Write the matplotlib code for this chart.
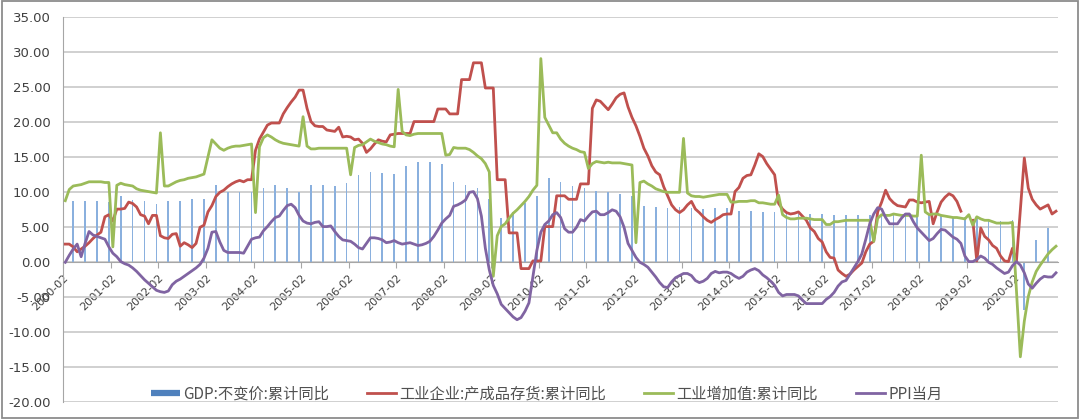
import numpy as np
import matplotlib
matplotlib.use("Agg")
import matplotlib.pyplot as plt
from matplotlib.lines import Line2D
from matplotlib.patches import Rectangle
from matplotlib.ticker import FormatStrFormatter

plt.rcParams['font.family'] = ['DejaVu Sans']

# Monthly series, one row per year (Jan..Dec), 2000-01 .. 2020-11
# PPI当月
ppi = [
    0.0, 1.0, 1.9, 2.6, 0.8, 2.7, 4.4, 3.9, 3.7, 3.5, 3.3, 2.2,
    1.3, 0.8, 0.1, -0.2, -0.4, -0.8, -1.3, -1.9, -2.5, -3.0, -3.5, -4.0,
    -4.2, -4.3, -4.1, -3.2, -2.7, -2.4, -2.0, -1.6, -1.2, -0.8, -0.3, 0.6,
    2.0, 4.3, 4.4, 2.9, 1.7, 1.4, 1.4, 1.4, 1.4, 1.3, 2.3, 3.3,
    3.5, 3.6, 4.5, 5.1, 5.8, 6.4, 6.6, 7.4, 8.1, 8.3, 7.8, 6.7,
    5.9, 5.6, 5.5, 5.7, 5.8, 5.1, 5.1, 5.2, 4.4, 3.7, 3.2, 3.1,
    3.0, 2.6, 2.1, 1.9, 2.7, 3.5, 3.5, 3.4, 3.2, 2.8, 2.9, 3.1,
    2.8, 2.6, 2.7, 2.8, 2.6, 2.4, 2.5, 2.7, 3.0, 3.7, 4.6, 5.6,
    6.2, 6.7, 8.0, 8.2, 8.5, 8.9, 10.0, 10.1, 9.1, 6.6, 2.0, -1.1,
    -3.3, -4.5, -6.0, -6.6, -7.2, -7.8, -8.2, -7.9, -7.0, -5.8, -2.1, 1.7,
    4.3, 5.4, 5.9, 6.8, 7.1, 6.4, 4.8, 4.3, 4.3, 5.0, 6.1, 5.9,
    6.6, 7.2, 7.3, 6.8, 6.8, 7.1, 7.5, 7.3, 6.5, 5.0, 2.7, 1.7,
    0.7, 0.0, -0.3, -0.7, -1.4, -2.1, -2.9, -3.5, -3.6, -2.8, -2.2, -1.9,
    -1.6, -1.6, -1.9, -2.6, -2.9, -2.7, -2.3, -1.6, -1.3, -1.5, -1.4, -1.4,
    -1.6, -2.0, -2.3, -2.0, -1.4, -1.1, -0.9, -1.2, -1.8, -2.2, -2.7, -3.3,
    -4.3, -4.8, -4.6, -4.6, -4.6, -4.8, -5.4, -5.9, -5.9, -5.9, -5.9, -5.9,
    -5.3, -4.9, -4.3, -3.4, -2.8, -2.6, -1.7, -0.8, 0.1, 1.2, 3.3, 5.5,
    6.9, 7.8, 7.6, 6.4, 5.5, 5.5, 5.5, 6.3, 6.9, 6.9, 5.8, 4.9,
    4.3, 3.7, 3.1, 3.4, 4.1, 4.7, 4.6, 4.1, 3.6, 3.3, 2.7, 0.9,
    0.1, 0.1, 0.4, 0.9, 0.6, 0.0, -0.3, -0.8, -1.2, -1.6, -1.4, -0.5,
    0.1, -0.4, -1.5, -3.1, -3.7, -3.0, -2.4, -2.0, -2.1, -2.1, -1.5,
]

# 工业企业:产成品存货:累计同比 (None = no value)
inventory = [
    2.6, 2.6, 2.2, 1.5, 1.9, 2.3, 2.8, 3.4, 3.9, 4.3, 6.5, 6.8,
    5.9, 7.6, 7.6, 7.7, 8.6, 8.4, 7.9, 6.8, 6.6, 5.5, 6.7, 6.7,
    3.8, 3.5, 3.4, 4.0, 4.1, 2.3, 2.8, 2.5, 2.1, 2.7, 5.0, 5.3,
    7.2, 8.1, 9.4, 10.0, 10.3, 10.8, 11.2, 11.5, 11.7, 11.5, 11.8, 11.8,
    16.0, 17.6, 18.6, 19.6, 19.9, 19.9, 19.9, 21.2, 22.1, 22.9, 23.6, 24.6,
    24.6, 22.0, 20.1, 19.5, 19.4, 19.4, 18.9, 18.8, 18.7, 19.3, 17.9, 18.0,
    17.9, 17.5, 17.6, 17.0, 15.7, 16.2, 16.9, 17.5, 17.3, 17.2, 18.2, 18.3,
    18.4, 18.4, 18.4, 18.4, 20.1, 20.1, 20.1, 20.1, 20.1, 20.1, 21.9, 21.9,
    21.9, 21.2, 21.2, 21.2, 26.1, 26.1, 26.1, 28.5, 28.5, 28.5, 24.9, 24.9,
    24.9, 11.8, 11.8, 11.8, 4.2, 4.2, 4.2, -0.9, -0.9, -0.9, 0.2, 0.2,
    0.2, 5.1, 5.1, 5.1, 9.5, 9.5, 9.5, 9.0, 9.0, 9.0, 11.2, 11.2,
    11.2, 22.0, 23.2, 23.0, 22.4, 21.8, 22.6, 23.5, 24.0, 24.2, 22.2, 20.7,
    19.5, 18.0, 16.3, 15.2, 13.8, 12.9, 12.5, 10.8, 9.5, 8.2, 7.5, 7.1,
    7.5, 8.2, 8.7, 7.6, 7.1, 6.5, 6.0, 5.7, 6.1, 6.4, 6.8, 6.9,
    6.9, 10.1, 10.7, 12.0, 12.4, 12.5, 13.9, 15.5, 15.1, 14.1, 13.3, 12.5,
    8.4, 7.6, 7.1, 6.9, 7.0, 7.2, 6.6, 6.0, 4.9, 4.4, 3.4, 2.9,
    1.5, 0.7, 0.6, -1.1, -1.6, -2.0, -1.7, -1.1, -0.6, -0.1, 1.5, 2.6,
    3.0, 7.2, 8.6, 10.3, 9.1, 8.5, 8.1, 8.0, 7.9, 8.9, 8.9, 8.6,
    8.5, 8.6, 8.7, 5.5, 7.2, 8.6, 9.3, 9.8, 9.5, 8.7, 7.3, None,
    None, 6.0, 0.2, 4.9, 3.7, 3.2, 2.4, 2.0, 0.9, 0.2, 0.1, 2.0,
    0.1, 7.5, 14.9, 10.6, 9.0, 8.2, 7.6, 7.9, 8.2, 6.9, 7.3,
]

# 工业增加值:累计同比 (None = no value, line is joined across it)
value_added = [
    8.8, 10.4, 10.9, 11.0, 11.1, 11.3, 11.5, 11.5, 11.5, 11.5, 11.4, 11.4,
    2.2, 11.0, 11.3, 11.1, 11.0, 10.9, 10.5, 10.3, 10.2, 10.1, 10.0, 9.9,
    18.5, 10.9, 10.9, 11.2, 11.5, 11.7, 11.8, 12.0, 12.1, 12.2, 12.4, 12.6,
    None, 17.5, 16.9, 16.3, 16.0, 16.3, 16.5, 16.6, 16.6, 16.7, 16.8, 16.9,
    7.1, 16.5, 17.8, 18.2, 17.9, 17.5, 17.2, 17.0, 16.9, 16.8, 16.7, 16.6,
    20.8, 16.6, 16.2, 16.2, 16.3, 16.3, 16.3, 16.3, 16.3, 16.3, 16.3, 16.3,
    12.5, 16.4, 16.7, 16.8, 17.2, 17.6, 17.3, 17.1, 16.9, 16.8, 16.6, 16.5,
    24.7, 18.7, 18.2, 18.1, 18.3, 18.4, 18.4, 18.4, 18.4, 18.4, 18.4, 18.4,
    15.3, 15.4, 16.4, 16.3, 16.3, 16.3, 16.1, 15.7, 15.2, 14.8, 14.1, 12.9,
    -2.0, 3.8, 5.1, 5.5, 6.3, 7.0, 7.5, 8.1, 8.7, 9.4, 10.3, 11.0,
    29.1, 20.7, 19.6, 18.5, 18.5, 17.6, 17.0, 16.6, 16.3, 16.1, 15.8, 15.7,
    13.4, 14.1, 14.4, 14.3, 14.2, 14.3, 14.2, 14.2, 14.2, 14.1, 14.0, 13.9,
    2.8, 11.4, 11.6, 11.2, 10.9, 10.5, 10.3, 10.1, 10.0, 10.0, 10.0, 10.0,
    17.7, 9.9, 9.5, 9.4, 9.4, 9.3, 9.4, 9.5, 9.6, 9.7, 9.7, 9.7,
    8.6, 8.6, 8.7, 8.7, 8.7, 8.8, 8.8, 8.5, 8.5, 8.4, 8.3, 8.3,
    9.6, 6.8, 6.4, 6.2, 6.2, 6.3, 6.3, 6.3, 6.2, 6.1, 6.1, 6.1,
    5.4, 5.4, 5.8, 5.8, 5.9, 6.0, 6.0, 6.0, 6.0, 6.0, 6.0, 6.0,
    3.0, 6.3, 6.8, 6.7, 6.7, 6.9, 6.8, 6.7, 6.7, 6.7, 6.6, 6.6,
    15.3, 7.2, 6.8, 6.9, 6.9, 6.7, 6.6, 6.5, 6.4, 6.4, 6.3, 6.2,
    6.8, 5.3, 6.5, 6.2, 6.0, 6.0, 5.8, 5.6, 5.6, 5.6, 5.6, 5.7,
    None, -13.5, -8.4, -4.9, -2.8, -1.3, -0.4, 0.4, 1.2, 1.8, 2.3,
]

# GDP:不变价:累计同比, quarterly (Mar, Jun, Sep, Dec)
gdp = [
    8.7, 8.8, 8.8, 8.6,
    9.4, 8.9, 8.7, 8.3,
    8.8, 8.8, 9.0, 9.0,
    11.0, 10.0, 10.0, 10.0,
    10.6, 11.0, 10.6, 10.0,
    11.0, 11.0, 10.9, 11.3,
    12.5, 12.9, 12.7, 12.6,
    13.7, 14.3, 14.3, 14.0,
    11.4, 11.1, 10.6, 9.0,
    6.3, 7.2, 8.4, 9.4,
    12.1, 11.4, 10.9, 10.6,
    10.2, 10.0, 9.8, 9.5,
    8.0, 7.9, 7.7, 7.9,
    7.7, 7.6, 7.7, 7.7,
    7.3, 7.3, 7.2, 7.2,
    7.0, 6.9, 6.9, 6.9,
    6.7, 6.7, 6.7, 6.8,
    6.9, 6.9, 6.8, 6.8,
    6.8, 6.7, 6.5, 6.4,
    6.3, 6.0, 5.9, 6.0,
    -6.8, 3.2, 4.9,
]

tick_labels = [
    "2000-02", "2001-02", "2002-02", "2003-02", "2004-02", "2005-02",
    "2006-02", "2007-02", "2008-02", "2009-02", "2010-02", "2011-02",
    "2012-02", "2013-02", "2014-02", "2015-02", "2016-02", "2017-02",
    "2018-02", "2019-02", "2020-02",
]

legend_labels = ["GDP:不变价:累计同比", "工业企业:产成品存货:累计同比",
                 "工业增加值:累计同比", "PPI当月"]

RED = "#C0504D"
GREEN = "#9BBB59"
PURPLE = "#8064A2"
BLUE = "#4F81BD"
TEXT = "#404040"
GRID = "#C4C4C4"

n = len(ppi)
x = np.arange(n)
gdp_pos = np.arange(len(gdp)) * 3 + 2
inv = np.array([np.nan if v is None else v for v in inventory], dtype=float)
va = np.array([np.nan if v is None else v for v in value_added], dtype=float)
va_ok = ~np.isnan(va)

fig = plt.figure(figsize=(10.8, 4.19), dpi=100)
ax = fig.add_axes([63.3 / 1080, 1 - 402.3 / 419, (1058 - 63.3) / 1080, 385 / 419])

# thin quarterly bars behind the monthly lines
ax.bar(gdp_pos, gdp, width=0.42, color="#8AB0DE", zorder=2)
ax.plot(x, inv, color=RED, lw=2.0, zorder=3, solid_joinstyle="round")
ax.plot(x[va_ok], va[va_ok], color=GREEN, lw=2.0, zorder=3, solid_joinstyle="round")
ax.plot(x, ppi, color=PURPLE, lw=2.0, zorder=4, solid_joinstyle="round")

ax.set_xlim(-0.5, n - 0.5)
ax.set_ylim(-20, 35)
ax.set_yticks(np.arange(-20, 36, 5))
ax.yaxis.set_major_formatter(FormatStrFormatter("%.2f"))
ax.grid(axis="y", color=GRID, lw=1.1)
ax.set_axisbelow(True)

for side in ("top", "right"):
    ax.spines[side].set_visible(False)
ax.spines["left"].set_color("#A6A6A6")
ax.spines["bottom"].set_position(("data", 0))
ax.spines["bottom"].set_color("#A6A6A6")

ax.tick_params(axis="y", length=0, pad=9, labelsize=9.5, labelcolor=TEXT)
ax.set_xticks(np.arange(0, n, 12) - 0.5)
ax.set_xticklabels(tick_labels, rotation=45, ha="right", va="top",
                   rotation_mode="anchor", fontsize=8, color=TEXT)
ax.tick_params(axis="x", length=4, color="#A6A6A6", pad=3.5)

handles = [
    Line2D([], [], color=BLUE, lw=4.5, solid_capstyle="butt"),
    Line2D([], [], color=RED, lw=2.0),
    Line2D([], [], color=GREEN, lw=2.0),
    Line2D([], [], color=PURPLE, lw=2.0),
]
ax.legend(handles, legend_labels, loc="center", bbox_to_anchor=(0.486, 0.0216),
          ncol=4, frameon=False, handlelength=1.9, handletextpad=0.25,
          columnspacing=2.45, labelcolor="#505050",
          prop={"family": ["Noto Sans CJK SC", "DejaVu Sans"], "size": 11})

fig.patches.append(Rectangle((0.0015, 0.003), 0.997, 0.994, transform=fig.transFigure,
                             fill=False, edgecolor="#8C8C8C", lw=1.3))

fig.savefig("out.png", dpi=100)
plt.close(fig)
